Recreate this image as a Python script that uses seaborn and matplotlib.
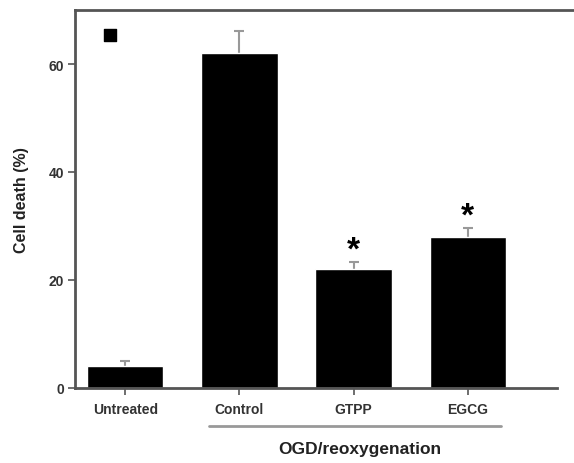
import pandas as pd
import numpy as np
import matplotlib
matplotlib.use('Agg')
import matplotlib.pyplot as plt
import seaborn as sns

# Values
groups = ['Untreated', 'Control', 'GTPP', 'EGCG']
cell_death = [4.0, 62.0, 22.0, 28.0]
sem = [1.0, 4.2, 1.4, 1.7]
significant = [False, False, True, True]

df = pd.DataFrame({'group': groups, 'death': cell_death})

sns.set_style('white')
plt.rcParams['font.family'] = ['Liberation Sans', 'DejaVu Sans']

fig = plt.figure(figsize=(5.74, 4.64), dpi=100)
ax = fig.add_axes([75 / 574, 1 - 389 / 464, 499 / 574, 378 / 464])

sns.barplot(data=df, x='group', y='death', color='black', width=0.67,
            errorbar=None, saturation=1, ax=ax, zorder=2)

# error bars drawn behind the bars so only the upper half shows
ax.errorbar(range(len(groups)), cell_death, yerr=sem,
            fmt='none', ecolor='#999999', elinewidth=1.5, capsize=3.5,
            capthick=1.5, zorder=1)

# significance marks
for i, (v, e, s) in enumerate(zip(cell_death, sem, significant)):
    if s:
        ax.text(i, v + e - 0.7, '*', ha='center', va='bottom',
                fontsize=24, fontweight='bold', color='black')

# small square marker in the top-left corner
ax.scatter([-0.13], [65.4], marker='s', s=75, color='black', zorder=4)

ax.set_xlim(-0.44, 3.93)
ax.set_ylim(0, 70)
ax.set_yticks([0, 20, 40, 60])
ax.set_xlabel('')
ax.set_ylabel('Cell death (%)', fontsize=11.5, fontweight='bold',
              color='#222222', labelpad=14)

for side in ['left', 'bottom', 'top']:
    ax.spines[side].set_color('#555555')
    ax.spines[side].set_linewidth(2)
ax.spines['right'].set_visible(False)
ax.spines['bottom'].set_bounds(-0.44, 3.78)

ax.tick_params(axis='both', direction='out', length=5, width=1.2,
               color='#555555', labelsize=10, labelcolor='#333333', pad=3,
               left=True, bottom=True)
for lab in ax.get_xticklabels() + ax.get_yticklabels():
    lab.set_fontweight('bold')
ax.tick_params(axis='x', pad=5)

# grouping line and label for OGD/reoxygenation
fig.add_artist(plt.Line2D([209 / 574, 501 / 574], [1 - 427 / 464, 1 - 427 / 464],
                          color='#999999', lw=2))
fig.text(360 / 574, 1 - 450 / 464, 'OGD/reoxygenation', ha='center',
         va='center', fontsize=12.5, fontweight='bold', color='#222222')

fig.savefig('out.png', dpi=100)
